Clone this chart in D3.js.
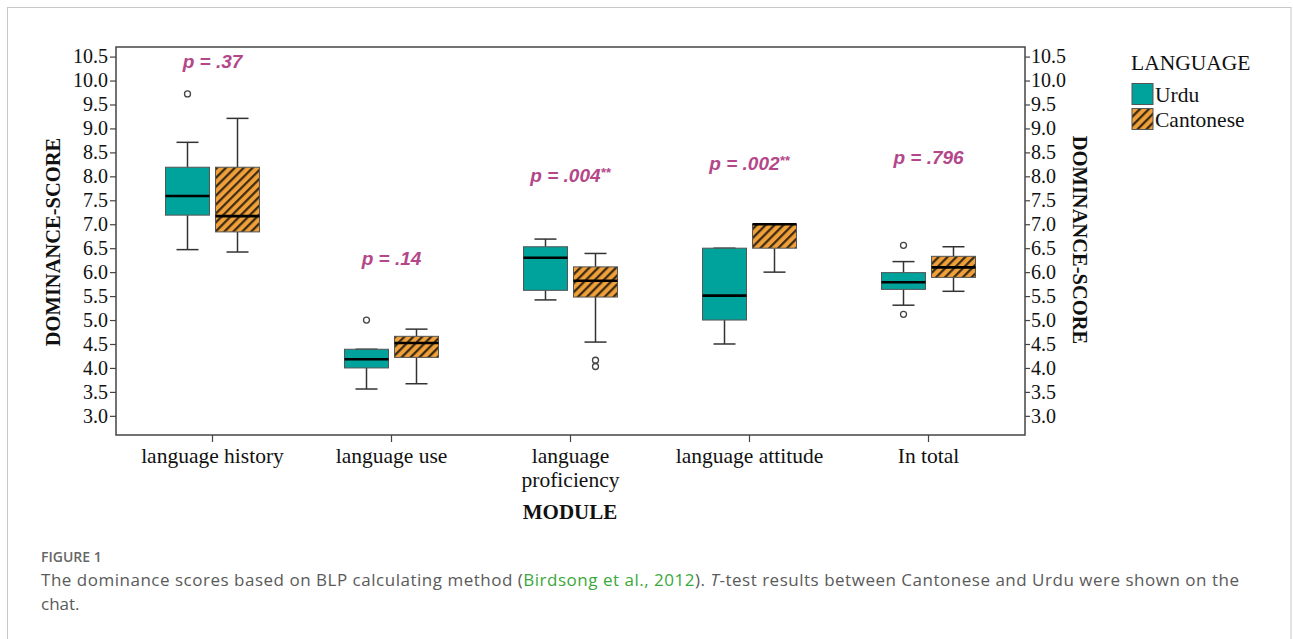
<!DOCTYPE html>
<html>
<head>
<meta charset="utf-8">
<script src="https://cdn.jsdelivr.net/npm/d3@7"></script>
<style>
  html, body { margin: 0; padding: 0; background: #fff; }
  svg { display: block; }
</style>
</head>
<body>
<svg id="chart" width="1293" height="639"></svg>
<script>
// ---------- data ----------
const modules = ["language history", "language use", "language proficiency", "language attitude", "In total"];
const languages = ["Urdu", "Cantonese"];
const yTicks = [3.0, 3.5, 4.0, 4.5, 5.0, 5.5, 6.0, 6.5, 7.0, 7.5, 8.0, 8.5, 9.0, 9.5, 10.0, 10.5];

const urduLow      = [6.47, 3.56, 5.42, 4.50, 5.31];
const urduQ1       = [7.19, 4.00, 5.62, 5.00, 5.64];
const urduMedian   = [7.59, 4.18, 6.30, 5.51, 5.79];
const urduQ3       = [8.19, 4.39, 6.53, 6.50, 5.99];
const urduHigh     = [8.71, 4.39, 6.69, 6.50, 6.22];
const urduOutliers = [[9.72], [5.00], [], [], [6.56, 5.12]];

const cantLow      = [6.42, 3.67, 4.54, 6.00, 5.60];
const cantQ1       = [6.84, 4.22, 5.48, 6.50, 5.89];
const cantMedian   = [7.17, 4.52, 5.82, 7.00, 6.10];
const cantQ3       = [8.19, 4.66, 6.11, 7.00, 6.33];
const cantHigh     = [9.21, 4.81, 6.39, 7.00, 6.53];
const cantOutliers = [[], [], [4.16, 4.03], [], []];

const pText  = ["p = .37", "p = .14", "p = .004", "p = .002", "p = .796"];
const pStars = ["", "", "**", "**", ""];
const pLabelScore = [10.26, 6.15, 7.88, 8.13, 8.26];

// ---------- build records ----------
function rec(lang, low, q1, med, q3, high, outl) {
  return modules.map((m, i) => ({ module: m, lang, low: low[i], q1: q1[i], med: med[i], q3: q3[i], high: high[i], outliers: outl[i] }));
}
const boxes = rec("Urdu", urduLow, urduQ1, urduMedian, urduQ3, urduHigh, urduOutliers)
  .concat(rec("Cantonese", cantLow, cantQ1, cantMedian, cantQ3, cantHigh, cantOutliers));

// ---------- layout ----------
const svg = d3.select("#chart");
const frame = { left: 116, right: 1025, top: 47, bottom: 435 };

const x = d3.scaleBand().domain(modules).range([123, 1018]);
const xInner = d3.scaleBand().domain(languages).range([-47, 47]).paddingInner(0.12);
const y = d3.scaleLinear().domain([2.6, 10.7]).range([frame.bottom, frame.top]);

const teal = "#00a29c";
const orange = "#f0a03a";
const serif = "'Liberation Serif', 'Times New Roman', serif";
const sans = "'Liberation Sans', Arial, sans-serif";

// outer figure border
svg.append("rect").attr("x", 7.5).attr("y", 7.5).attr("width", 1283.5).attr("height", 700)
  .attr("fill", "none").attr("stroke", "#c8c8c8").attr("stroke-width", 1);

// hatch pattern
const defs = svg.append("defs");
const pat = defs.append("pattern").attr("id", "hatch").attr("patternUnits", "userSpaceOnUse")
  .attr("width", 6.3).attr("height", 6.3).attr("patternTransform", "rotate(45)");
pat.append("rect").attr("width", 6.3).attr("height", 6.3).attr("fill", orange);
pat.append("line").attr("x1", 1.2).attr("y1", 0).attr("x2", 1.2).attr("y2", 6.3)
  .attr("stroke", "#2e2210").attr("stroke-width", 2.1);

const fillFor = lang => lang === "Urdu" ? teal : "url(#hatch)";

// plot frame
svg.append("rect").attr("x", frame.left).attr("y", frame.top)
  .attr("width", frame.right - frame.left).attr("height", frame.bottom - frame.top)
  .attr("fill", "none").attr("stroke", "#444").attr("stroke-width", 1.5);

// axes
const fmt = d3.format(".1f");
const gL = svg.append("g").attr("transform", `translate(${frame.left},0)`)
  .call(d3.axisLeft(y).tickValues(yTicks).tickFormat(fmt).tickSize(6).tickPadding(2));
const gR = svg.append("g").attr("transform", `translate(${frame.right},0)`)
  .call(d3.axisRight(y).tickValues(yTicks).tickFormat(fmt).tickSize(5).tickPadding(1));
[gL, gR].forEach(g => {
  g.select(".domain").remove();
  g.selectAll(".tick line").attr("stroke", "#444").attr("stroke-width", 1.2);
  g.selectAll(".tick text").attr("fill", "#111").style("font-family", serif).style("font-size", "20px");
});

const gB = svg.append("g").attr("transform", `translate(0,${frame.bottom})`)
  .call(d3.axisBottom(x).tickSize(7).tickFormat(""));
gB.select(".domain").remove();
gB.selectAll(".tick line").attr("stroke", "#444").attr("stroke-width", 1.2);

// category labels (wrapped)
const labelLines = { "language proficiency": ["language", "proficiency"] };
modules.forEach(m => {
  const lines = labelLines[m] || [m];
  const t = svg.append("text").attr("x", x(m) + x.bandwidth() / 2).attr("y", 463)
    .attr("text-anchor", "middle").attr("fill", "#111")
    .style("font-family", serif).style("font-size", "21.5px");
  lines.forEach((ln, i) => t.append("tspan").attr("x", x(m) + x.bandwidth() / 2).attr("dy", i === 0 ? 0 : 23.5).text(ln));
});

// axis titles
svg.append("text").attr("transform", "translate(60,242) rotate(-90)").attr("text-anchor", "middle")
  .attr("fill", "#111").style("font-family", serif).style("font-weight", "bold").style("font-size", "20.5px")
  .text("DOMINANCE-SCORE");
svg.append("text").attr("transform", "translate(1073,240) rotate(90)").attr("text-anchor", "middle")
  .attr("fill", "#111").style("font-family", serif).style("font-weight", "bold").style("font-size", "20.5px")
  .text("DOMINANCE-SCORE");
svg.append("text").attr("x", 570).attr("y", 519).attr("text-anchor", "middle")
  .attr("fill", "#111").style("font-family", serif).style("font-weight", "bold").style("font-size", "21px")
  .text("MODULE");

// boxes
const capW = 22;
const g = svg.append("g");
const bx = d => x(d.module) + x.bandwidth() / 2 + xInner(d.lang);
const bc = d => bx(d) + xInner.bandwidth() / 2;

const items = g.selectAll("g.box").data(boxes).join("g").attr("class", "box");
const stroke = "#333";
// whiskers
items.append("line").attr("x1", bc).attr("x2", bc).attr("y1", d => y(d.q3)).attr("y2", d => y(d.high))
  .attr("stroke", stroke).attr("stroke-width", 1.5);
items.append("line").attr("x1", bc).attr("x2", bc).attr("y1", d => y(d.q1)).attr("y2", d => y(d.low))
  .attr("stroke", stroke).attr("stroke-width", 1.5);
items.append("line").attr("x1", d => bc(d) - capW / 2).attr("x2", d => bc(d) + capW / 2)
  .attr("y1", d => y(d.high)).attr("y2", d => y(d.high)).attr("stroke", stroke).attr("stroke-width", 1.5);
items.append("line").attr("x1", d => bc(d) - capW / 2).attr("x2", d => bc(d) + capW / 2)
  .attr("y1", d => y(d.low)).attr("y2", d => y(d.low)).attr("stroke", stroke).attr("stroke-width", 1.5);
// box
items.append("rect").attr("x", bx).attr("width", xInner.bandwidth())
  .attr("y", d => y(d.q3)).attr("height", d => y(d.q1) - y(d.q3))
  .attr("fill", d => fillFor(d.lang)).attr("stroke", "#555").attr("stroke-width", 1);
// median
items.append("line").attr("x1", bx).attr("x2", d => bx(d) + xInner.bandwidth())
  .attr("y1", d => y(d.med)).attr("y2", d => y(d.med)).attr("stroke", "#000").attr("stroke-width", 2.6);
// outliers
items.selectAll("circle").data(d => d.outliers.map(v => ({ v, cx: bc(d) }))).join("circle")
  .attr("cx", o => o.cx).attr("cy", o => y(o.v)).attr("r", 3)
  .attr("fill", "#fff").attr("stroke", "#444").attr("stroke-width", 1.3);

// p labels
modules.forEach((m, i) => {
  const t = svg.append("text").attr("x", x(m) + x.bandwidth() / 2).attr("y", y(pLabelScore[i]))
    .attr("text-anchor", "middle").attr("fill", "#b4478a")
    .style("font-family", sans).style("font-weight", "bold").style("font-style", "italic").style("font-size", "19px");
  t.append("tspan").text(pText[i]);
  if (pStars[i]) t.append("tspan").attr("dy", -5).style("font-size", "13px").text(pStars[i]);
});

// legend
const lg = svg.append("g");
lg.append("text").attr("x", 1131).attr("y", 70).attr("fill", "#111")
  .style("font-family", serif).style("font-size", "21.5px").text("LANGUAGE");
languages.forEach((l, i) => {
  lg.append("rect").attr("x", 1132).attr("y", 83.5 + i * 25).attr("width", 21).attr("height", 21)
    .attr("fill", fillFor(l)).attr("stroke", "#555").attr("stroke-width", 1);
  lg.append("text").attr("x", 1155).attr("y", 101.5 + i * 25).attr("fill", "#111")
    .style("font-family", serif).style("font-size", "21.5px").text(l);
});

// caption
const capFont = "'Open Sans', 'Noto Sans', sans-serif";
svg.append("text").attr("x", 41).attr("y", 562).attr("fill", "#666")
  .style("font-family", capFont).style("font-weight", 600).style("font-size", "14px").text("FIGURE 1");
const cap = svg.append("text").attr("x", 41).attr("y", 586).attr("fill", "#5a5a5a")
  .attr("textLength", 1198).attr("lengthAdjust", "spacing")
  .style("font-family", capFont).style("font-size", "17px");
cap.append("tspan").text("The dominance scores based on BLP calculating method (");
cap.append("tspan").attr("fill", "#3aa83a").text("Birdsong et al., 2012");
cap.append("tspan").text("). ");
cap.append("tspan").style("font-style", "italic").text("T");
cap.append("tspan").text("-test results between Cantonese and Urdu were shown on the");
svg.append("text").attr("x", 41).attr("y", 610).attr("fill", "#5a5a5a")
  .style("font-family", capFont).style("font-size", "17px").text("chat.");
</script>
</body>
</html>
